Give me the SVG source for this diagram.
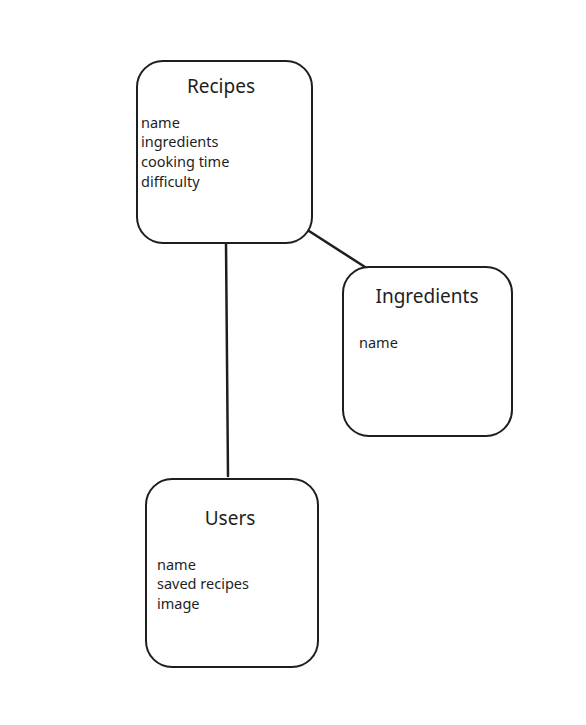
<svg xmlns="http://www.w3.org/2000/svg" width="586" height="725" viewBox="0 0 586 725">
<style>
.box{fill:#ffffff;stroke:#1e1e1e;stroke-width:2}
.edge{stroke:#1e1e1e;stroke-width:2.5;fill:none;stroke-linecap:round}
.title{font-family:"Noto Sans","Liberation Sans",sans-serif;font-size:19px;fill:#1e1e1e;text-anchor:middle}
.field{font-family:"Noto Sans","Liberation Sans",sans-serif;font-size:14.5px;fill:#1e1e1e}
</style>
<rect width="586" height="725" fill="#ffffff"/>
<g id="connectors">
<path class="edge" d="M226 243 L228 476"/>
<path class="edge" d="M309 231 L365 267"/>
</g>
<g id="recipes">
<rect class="box" x="137" y="61" width="175" height="182" rx="26"/>
<text class="title" x="221" y="93">Recipes</text>
<text class="field" x="141" y="128">name</text>
<text class="field" x="141" y="147">ingredients</text>
<text class="field" x="141" y="167">cooking time</text>
<text class="field" x="141" y="187">difficulty</text>
</g>
<g id="ingredients">
<rect class="box" x="343" y="267" width="169" height="169" rx="26"/>
<text class="title" x="427" y="303">Ingredients</text>
<text class="field" x="359" y="348">name</text>
</g>
<g id="users">
<rect class="box" x="146" y="479" width="172" height="188" rx="26"/>
<text class="title" x="230" y="525">Users</text>
<text class="field" x="157" y="570">name</text>
<text class="field" x="157" y="589">saved recipes</text>
<text class="field" x="157" y="609">image</text>
</g>
</svg>
